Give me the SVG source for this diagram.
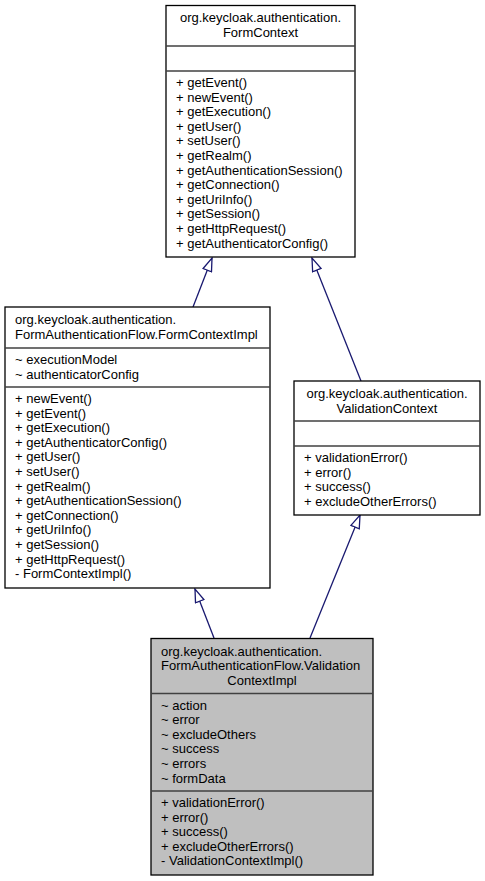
<svg xmlns="http://www.w3.org/2000/svg" width="485" height="881" viewBox="0 0 485 881">
<style>
text{font-family:"Liberation Sans",Arial,sans-serif;font-size:13px;fill:#000}
.c{text-anchor:middle}
.box{fill:#fff;stroke:#000;stroke-width:1.3}
.cur{fill:#bfbfbf;stroke:#000;stroke-width:1.3}
.sep{stroke:#404040;stroke-width:1.3}
.edge{fill:none;stroke:#191970;stroke-width:1.3;marker-end:url(#tri)}
</style>
<defs>
<marker id="tri" markerUnits="userSpaceOnUse" viewBox="0 0 15 11" markerWidth="15" markerHeight="11" refX="14" refY="5.5" orient="auto">
<path d="M1,1 L14,5.5 L1,10 Z" fill="#fff" stroke="#191970" stroke-width="1.3"/>
</marker>
</defs>
<g id="edges">
<path class="edge" d="M193,307 L212,258"/>
<path class="edge" d="M361,381 L312,258"/>
<path class="edge" d="M214,638 L195,589"/>
<path class="edge" d="M310,638 L360,515"/>
</g>
<g id="FormContext">
<rect class="box" x="166" y="5.5" width="189" height="251.5"/>
<line class="sep" x1="166" y1="46" x2="355" y2="46"/>
<line class="sep" x1="166" y1="71" x2="355" y2="71"/>
<text class="c" x="260.5" y="22">org.keycloak.authentication.</text>
<text class="c" x="260.5" y="37">FormContext</text>
<text x="176" y="87">+ getEvent()</text>
<text x="176" y="101.6">+ newEvent()</text>
<text x="176" y="116.2">+ getExecution()</text>
<text x="176" y="130.8">+ getUser()</text>
<text x="176" y="145.4">+ setUser()</text>
<text x="176" y="160">+ getRealm()</text>
<text x="176" y="174.6">+ getAuthenticationSession()</text>
<text x="176" y="189.2">+ getConnection()</text>
<text x="176" y="203.8">+ getUriInfo()</text>
<text x="176" y="218.4">+ getSession()</text>
<text x="176" y="233">+ getHttpRequest()</text>
<text x="176" y="247.6">+ getAuthenticatorConfig()</text>
</g>
<g id="FormContextImpl">
<rect class="box" x="5" y="307" width="265" height="281"/>
<line class="sep" x1="5" y1="348" x2="270" y2="348"/>
<line class="sep" x1="5" y1="387" x2="270" y2="387"/>
<text x="15" y="324">org.keycloak.authentication.</text>
<text x="15" y="338.5">FormAuthenticationFlow.FormContextImpl</text>
<text x="15" y="364">~ executionModel</text>
<text x="15" y="378.5">~ authenticatorConfig</text>
<text x="15" y="403">+ newEvent()</text>
<text x="15" y="417.6">+ getEvent()</text>
<text x="15" y="432.2">+ getExecution()</text>
<text x="15" y="446.8">+ getAuthenticatorConfig()</text>
<text x="15" y="461.4">+ getUser()</text>
<text x="15" y="476">+ setUser()</text>
<text x="15" y="490.6">+ getRealm()</text>
<text x="15" y="505.2">+ getAuthenticationSession()</text>
<text x="15" y="519.8">+ getConnection()</text>
<text x="15" y="534.4">+ getUriInfo()</text>
<text x="15" y="549">+ getSession()</text>
<text x="15" y="563.6">+ getHttpRequest()</text>
<text x="15" y="578.2">- FormContextImpl()</text>
</g>
<g id="ValidationContext">
<rect class="box" x="294" y="381" width="186" height="134"/>
<line class="sep" x1="294" y1="421" x2="480" y2="421"/>
<line class="sep" x1="294" y1="446" x2="480" y2="446"/>
<text class="c" x="387" y="398">org.keycloak.authentication.</text>
<text class="c" x="387" y="412.5">ValidationContext</text>
<text x="304" y="462">+ validationError()</text>
<text x="304" y="476.6">+ error()</text>
<text x="304" y="491.2">+ success()</text>
<text x="304" y="505.8">+ excludeOtherErrors()</text>
</g>
<g id="ValidationContextImpl">
<rect class="cur" x="151" y="638.5" width="222" height="236.5"/>
<line class="sep" x1="151" y1="693.5" x2="373" y2="693.5"/>
<line class="sep" x1="151" y1="791" x2="373" y2="791"/>
<text x="161" y="655.5">org.keycloak.authentication.</text>
<text x="161" y="670">FormAuthenticationFlow.Validation</text>
<text class="c" x="262" y="684.5">ContextImpl</text>
<text x="161" y="709.5">~ action</text>
<text x="161" y="724.1">~ error</text>
<text x="161" y="738.7">~ excludeOthers</text>
<text x="161" y="753.3">~ success</text>
<text x="161" y="767.9">~ errors</text>
<text x="161" y="782.5">~ formData</text>
<text x="161" y="807">+ validationError()</text>
<text x="161" y="821.6">+ error()</text>
<text x="161" y="836.2">+ success()</text>
<text x="161" y="850.8">+ excludeOtherErrors()</text>
<text x="161" y="865.4">- ValidationContextImpl()</text>
</g>
</svg>
